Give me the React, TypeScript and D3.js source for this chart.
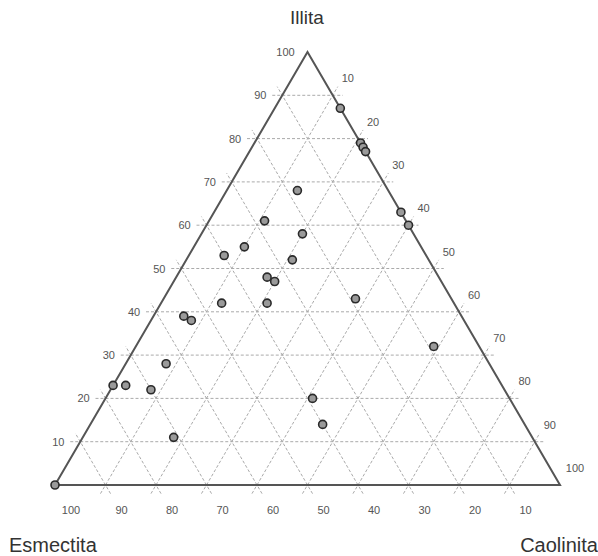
import React from "react";
import * as d3 from "d3";

// Ternary data: Illita (top), Esmectita (bottom-left), Caolinita (bottom-right), in %
const illita = [87, 79, 78, 77, 63, 60, 68, 61, 58, 55, 53, 52, 48, 47, 42, 42, 39, 38, 43, 32, 28, 23, 23, 22, 11, 20, 14, 0];
const caolinita = [13, 21, 22, 23, 37, 40, 14, 11, 20, 10, 7, 21, 18, 20, 12, 21, 6, 8, 38, 59, 8, 0, 2.5, 8, 18, 41, 46, 0];
const esmectita = illita.map((v, i) => 100 - v - caolinita[i]);

const ticks = [10, 20, 30, 40, 50, 60, 70, 80, 90, 100];
const gridTicks = [10, 20, 30, 40, 50, 60, 70, 80, 90];

const X0 = 55;
const WIDTH = 505;
const Y_BOTTOM = 485;
const Y_TOP = 52;

const xs = d3.scaleLinear().domain([0, 100]).range([X0, X0 + WIDTH]);
const ys = d3.scaleLinear().domain([0, 100]).range([Y_BOTTOM, Y_TOP]);

// Convert (illite, caolinite) to pixel coords
function pt(I: number, C: number): [number, number] {
  return [xs(C + I / 2), ys(I)];
}

function extend(a: [number, number], b: [number, number], ext: number): [number, number, number, number] {
  const dx = b[0] - a[0];
  const dy = b[1] - a[1];
  const len = Math.sqrt(dx * dx + dy * dy) || 1;
  const ux = dx / len;
  const uy = dy / len;
  return [a[0] - ux * ext, a[1] - uy * ext, b[0] + ux * ext, b[1] + uy * ext];
}

export default function App() {
  const EXT = 10;
  const gridLines: [number, number, number, number][] = [];
  gridTicks.forEach((v) => {
    gridLines.push(extend(pt(v, 0), pt(v, 100 - v), EXT));
    gridLines.push(extend(pt(0, v), pt(100 - v, v), EXT));
    gridLines.push(extend(pt(0, 100 - v), pt(100 - v, 0), EXT));
  });

  const A = pt(100, 0);
  const L = pt(0, 0);
  const R = pt(0, 100);
  const tri = d3.line()([L, R, A, L]) || "";

  const font = "'Liberation Sans', Arial, sans-serif";

  return (
    <svg width={598} height={556} style={{ position: "absolute", left: 0, top: 0, background: "#fff" }}>
      <g>
        {gridLines.map((l, i) => (
          <line key={i} x1={l[0]} y1={l[1]} x2={l[2]} y2={l[3]} stroke="#aaa" strokeWidth={1} strokeDasharray="3,2" />
        ))}
      </g>
      <path d={tri} fill="none" stroke="#555" strokeWidth={2} strokeLinejoin="miter" />
      {ticks.map((v) => {
        const [x, y] = pt(v, 0);
        return (
          <text key={"l" + v} x={x - 22} y={y + 4} textAnchor="middle" fontSize={11} fill="#555" fontFamily={font}>
            {v}
          </text>
        );
      })}
      {ticks.map((v) => {
        const [x, y] = pt(100 - v, v);
        return (
          <text key={"r" + v} x={x + 15} y={y - 13} textAnchor="middle" fontSize={11} fill="#555" fontFamily={font}>
            {v}
          </text>
        );
      })}
      {ticks.map((v) => {
        const [x, y] = pt(0, 100 - v);
        return (
          <text key={"b" + v} x={x + 16} y={y + 29} textAnchor="middle" fontSize={11} fill="#555" fontFamily={font}>
            {v}
          </text>
        );
      })}
      {illita.map((I, i) => {
        const [x, y] = pt(I, caolinita[i]);
        return <circle key={"p" + i} cx={x} cy={y} r={4} fill="#9a9a9a" stroke="#2a2a2a" strokeWidth={1.6} data-esm={esmectita[i]} />;
      })}
      <text x={307} y={24} textAnchor="middle" fontSize={19} fill="#333" fontFamily={font}>
        Illita
      </text>
      <text x={9} y={552} textAnchor="start" fontSize={20} fill="#333" fontFamily={font}>
        Esmectita
      </text>
      <text x={598} y={552} textAnchor="end" fontSize={20} fill="#333" fontFamily={font}>
        Caolinita
      </text>
    </svg>
  );
}
